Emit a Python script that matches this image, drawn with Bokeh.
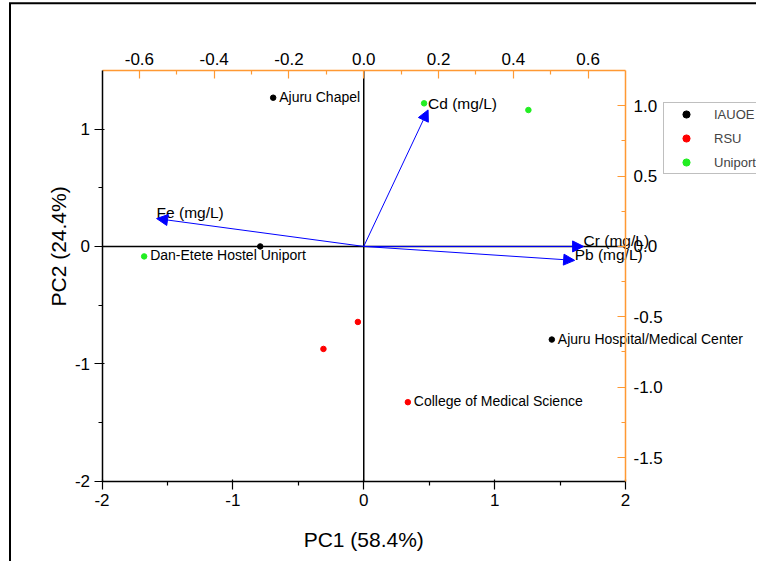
import math
from bokeh.plotting import figure
from bokeh.models import (Range1d, LinearAxis, Arrow, NormalHead, ColumnDataSource,
                          Legend, LegendItem, FixedTicker, PrintfTickFormatter)
from bokeh.embed import file_html
from bokeh.resources import INLINE
from bokeh.core.properties import value

# ---- data: PCA scores (sampling sites) ----
site_group = ["IAUOE", "IAUOE", "IAUOE", "RSU", "RSU", "RSU", "Uniport", "Uniport", "Uniport"]
site_label = ["Ajuru Chapel", "", "Ajuru Hospital/Medical Center",
              "", "", "College of Medical Science",
              "", "", "Dan-Etete Hostel Uniport"]
pc1 = [-0.692, -0.791, 1.437, -0.045, -0.308, 0.337, 0.461, 1.258, -1.678]
pc2 = [1.268, 0.0, -0.794, -0.644, -0.874, -1.328, 1.220, 1.163, -0.085]

group_names = ["IAUOE", "RSU", "Uniport"]
group_colors = ["#000000", "#FF0000", "#22EE22"]

# ---- data: PCA loadings (variables) ----
loading_names = ["Fe (mg/L)", "Cd (mg/L)", "Cr (mg/L)", "Pb (mg/L)"]
loading_pc1 = [-0.554, 0.172, 0.588, 0.564]
loading_pc2 = [0.198, 0.970, 0.0, -0.099]

x_title = "PC1 (58.4%)"
y_title = "PC2 (24.4%)"
bottom_ticks = [-2, -1, 0, 1, 2]
left_ticks = [-2, -1, 0, 1]
top_ticks = [-0.6, -0.4, -0.2, 0.0, 0.2, 0.4, 0.6]
right_ticks = [-1.5, -1.0, -0.5, 0.0, 0.5, 1.0]

# axis extents (primary: scores, secondary: loadings)
X0, X1 = -2.0, 2.0
Y0, Y1 = -2.0, 1.5
TX0, TX1 = -0.70, 0.70
RY0, RY1 = Y0 / 1.2, Y1 / 1.2

FONT = "Liberation Sans"
ORANGE = "#FF9933"

# layout in canvas pixels: the whole canvas is the frame, the plot box sits inside it
W, H = 756, 561
PL, PR, PT, PB = 101.5, 625.0, 70.0, 480.5
kx = (X1 - X0) / (PR - PL)
ky = (Y1 - Y0) / (PB - PT)
ktx = (TX1 - TX0) / (PR - PL)
kry = (RY1 - RY0) / (PB - PT)


def px_x(px):
    return X0 + (px - PL) * kx


def px_y(py):
    return Y0 + (PB - py) * ky


p = figure(frame_width=W, frame_height=H,
           x_range=Range1d(X0 - PL * kx, X1 + (W - PR) * kx),
           y_range=Range1d(Y0 - (H - PB) * ky, Y1 + PT * ky),
           output_backend="svg", toolbar_location=None,
           x_axis_location=None, y_axis_location=None,
           min_border=0)
p.outline_line_color = None
p.xgrid.visible = False
p.ygrid.visible = False
p.extra_x_ranges = {"top": Range1d(TX0 - PL * ktx, TX1 + (W - PR) * ktx)}
p.extra_y_ranges = {"right": Range1d(RY0 - (H - PB) * kry, RY1 + PT * kry)}


def style_axis(ax, color, inward):
    ax.axis_line_color = color
    ax.axis_line_width = 1.5
    ax.major_tick_line_color = color
    ax.minor_tick_line_color = color
    ax.major_tick_line_width = 1.2
    ax.minor_tick_line_width = 1.2
    if inward:
        ax.major_tick_in = 8
        ax.major_tick_out = 0
        ax.minor_tick_in = 4
        ax.minor_tick_out = 0
    else:
        ax.major_tick_in = 2
        ax.major_tick_out = 8
        ax.minor_tick_in = 0
        ax.minor_tick_out = 4
    ax.major_label_text_font = FONT
    ax.major_label_text_font_size = "17px"
    ax.major_label_text_color = "black"


bottom = LinearAxis(ticker=FixedTicker(ticks=bottom_ticks, minor_ticks=[-1.5, -0.5, 0.5, 1.5]),
                    formatter=PrintfTickFormatter(format="%d"),
                    fixed_location=Y0, bounds=(X0, X1))
style_axis(bottom, "black", False)
bottom.major_label_standoff = 5
p.add_layout(bottom, "below")

left = LinearAxis(ticker=FixedTicker(ticks=left_ticks, minor_ticks=[-1.5, -0.5, 0.5]),
                  formatter=PrintfTickFormatter(format="%d"),
                  fixed_location=X0, bounds=(Y0, Y1))
style_axis(left, "black", False)
left.major_label_standoff = 4
p.add_layout(left, "left")

top = LinearAxis(x_range_name="top",
                 ticker=FixedTicker(ticks=top_ticks, minor_ticks=[-0.5, -0.3, -0.1, 0.1, 0.3, 0.5]),
                 formatter=PrintfTickFormatter(format="%.1f"),
                 fixed_location=Y1, bounds=(TX0, TX1))
style_axis(top, ORANGE, True)
top.major_label_standoff = 6
p.add_layout(top, "above")

right = LinearAxis(y_range_name="right",
                   ticker=FixedTicker(ticks=right_ticks, minor_ticks=[-1.25, -0.75, -0.25, 0.25, 0.75]),
                   formatter=PrintfTickFormatter(format="%.1f"),
                   fixed_location=X1, bounds=(RY0, RY1))
style_axis(right, ORANGE, True)
right.major_label_standoff = 8
p.add_layout(right, "right")

# axis titles
p.text(x=[0.0], y=[px_y(539)], text=[x_title], text_font=value(FONT), text_font_size="21px",
       text_color="black", text_align="center", text_baseline="middle")
p.text(x=[px_x(57.5)], y=[0.0], text=[y_title], text_font=value(FONT), text_font_size="21px",
       text_color="black", text_align="center", text_baseline="middle", angle=math.pi / 2)

# cross lines through origin
p.segment(x0=[0.0, X0], y0=[Y0, 0.0], x1=[0.0, X1], y1=[Y1, 0.0], line_color="black", line_width=1.5)

# outer border (left and top edges of the original figure), running off the canvas
bx, by = px_x(9.5), px_y(2.7)
p.line(x=[bx, bx, p.x_range.end + 2.0], y=[p.y_range.start - 2.0, by, by],
       line_color="black", line_width=2, line_join="miter")

# loading arrows (in top/right coordinates)
arr_src = ColumnDataSource(dict(x0=[0.0] * len(loading_pc1), y0=[0.0] * len(loading_pc2),
                                x1=loading_pc1, y1=loading_pc2))
p.add_layout(Arrow(end=NormalHead(size=11, fill_color="#0000FF", line_color="#0000FF"),
                   x_start="x0", y_start="y0", x_end="x1", y_end="y1", source=arr_src,
                   line_color="#0000FF", line_width=1,
                   x_range_name="top", y_range_name="right"))
p.text(x=loading_pc1, y=loading_pc2, text=loading_names,
       x_range_name="top", y_range_name="right",
       text_font=value(FONT), text_font_size="15.5px", text_color="black",
       text_align="left", text_baseline="alphabetic", y_offset=-6)

# score points
items = []
for g, c in zip(group_names, group_colors):
    xs = [x for x, gg in zip(pc1, site_group) if gg == g]
    ys = [y for y, gg in zip(pc2, site_group) if gg == g]
    r = p.scatter(xs, ys, size=5.5, color=c, marker="circle")
    items.append(LegendItem(label=g, renderers=[r]))

p.text(x=[x for x, t in zip(pc1, site_label) if t],
       y=[y for y, t in zip(pc2, site_label) if t],
       text=[t for t in site_label if t],
       text_font=value(FONT), text_font_size="14px", text_color="black",
       text_align="left", text_baseline="middle", x_offset=6, y_offset=-1)

legend = Legend(items=items, location=(663, H - 174))
legend.label_text_font = FONT
legend.label_text_font_size = "13px"
legend.padding = 2
legend.margin = 0
legend.glyph_width = 40
legend.glyph_height = 18
legend.label_height = 18
legend.label_standoff = 8
legend.spacing = 6
legend.border_line_color = "#808080"
legend.border_line_width = 1
legend.background_fill_alpha = 1
p.add_layout(legend, "center")

open("out.html", "w").write(file_html(p, INLINE))
